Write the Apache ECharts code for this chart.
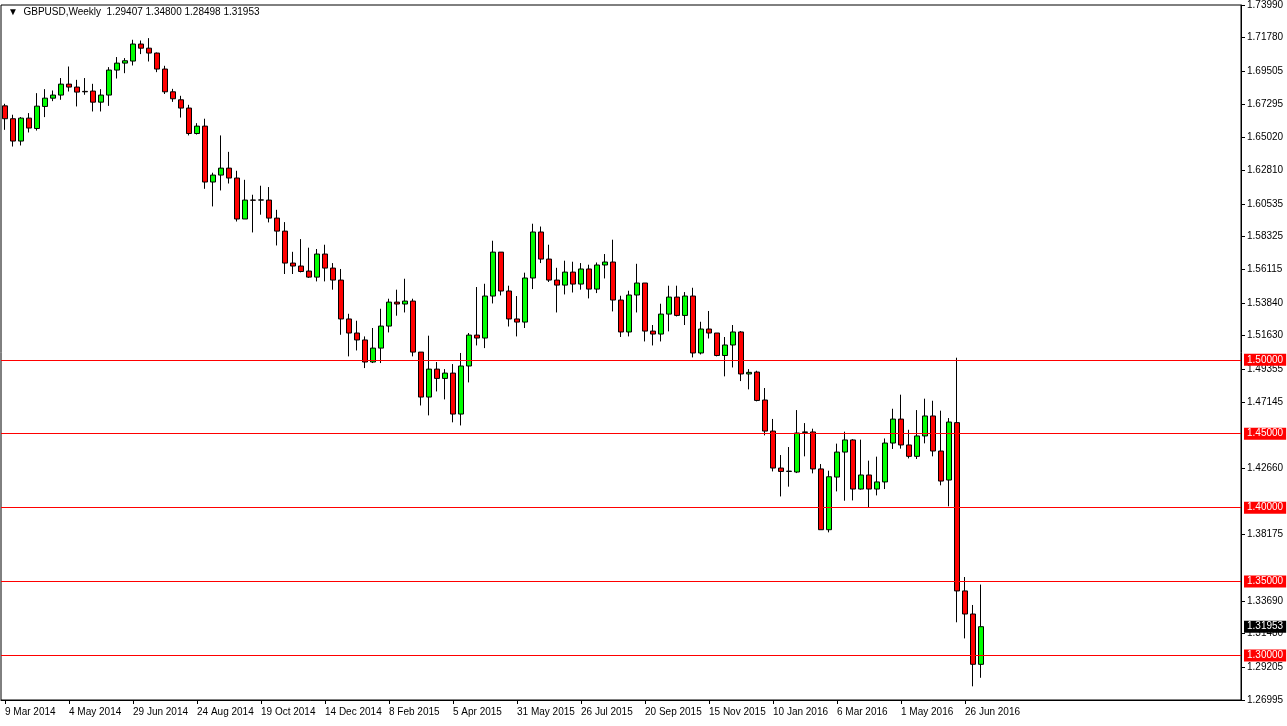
<!DOCTYPE html>
<html><head><meta charset="utf-8">
<script src="https://cdn.jsdelivr.net/npm/echarts@6/dist/echarts.min.js"></script>
<style>html,body{margin:0;padding:0;background:#fff}#c{width:1287px;height:726px}</style>
</head><body><div id="c"></div>
<script>
const open = [1.6717,1.6630,1.6479,1.6634,1.6564,1.6713,1.6769,1.6790,1.6864,1.6844,
1.6815,1.6817,1.6742,1.6790,1.6959,1.7006,1.7020,1.7135,1.7107,1.7074,
1.6966,1.6812,1.6758,1.6702,1.6530,1.6580,1.6202,1.6249,1.6296,1.6229,
1.5952,1.6080,1.6080,1.6080,1.5958,1.5870,1.5654,1.5634,1.5600,1.5559,
1.5715,1.5620,1.5539,1.5276,1.5181,1.5134,1.4985,1.5079,1.5228,1.5390,
1.5377,1.5397,1.5052,1.4748,1.4937,1.4874,1.4910,1.4633,1.4958,1.5167,
1.5147,1.5431,1.5728,1.5465,1.5276,1.5255,1.5553,1.5864,1.5681,1.5539,
1.5505,1.5593,1.5512,1.5614,1.5478,1.5641,1.5661,1.5404,1.5188,1.5438,
1.5519,1.5194,1.5174,1.5309,1.5424,1.5300,1.5431,1.5046,1.5208,1.5181,
1.5029,1.5100,1.5188,1.4904,1.4917,1.4728,1.4518,1.4268,1.4245,1.4241,
1.4509,1.4512,1.4262,1.3851,1.4207,1.4376,1.4458,1.4126,1.4221,1.4126,
1.4174,1.4437,1.4599,1.4424,1.4347,1.4485,1.4620,1.4383,1.4187,1.4575,
1.3437,1.3281,1.29407];
const close = [1.6630,1.6479,1.6634,1.6567,1.6715,1.6769,1.6790,1.6864,1.6844,1.6810,
1.6812,1.6742,1.6790,1.6959,1.7006,1.7022,1.7135,1.7107,1.7074,1.6966,
1.6812,1.6765,1.6702,1.6530,1.6580,1.6202,1.6249,1.6296,1.6229,1.5952,
1.6080,1.6079,1.6081,1.5958,1.5870,1.5654,1.5634,1.5597,1.5559,1.5715,
1.5620,1.5539,1.5276,1.5181,1.5134,1.4985,1.5079,1.5228,1.5390,1.5377,
1.5397,1.5052,1.4748,1.4937,1.4874,1.4910,1.4633,1.4958,1.5167,1.5147,
1.5431,1.5728,1.5465,1.5276,1.5255,1.5553,1.5864,1.5681,1.5539,1.5505,
1.5593,1.5512,1.5614,1.5478,1.5641,1.5661,1.5404,1.5188,1.5438,1.5519,
1.5194,1.5174,1.5309,1.5424,1.5300,1.5431,1.5046,1.5208,1.5181,1.5029,
1.5100,1.5188,1.4904,1.4915,1.4725,1.4518,1.4268,1.4245,1.4247,1.4505,
1.4512,1.4262,1.3851,1.4209,1.4376,1.4458,1.4126,1.4221,1.4126,1.4174,
1.4437,1.4599,1.4424,1.4347,1.4485,1.4620,1.4383,1.4180,1.4579,1.3437,
1.3281,1.2941,1.31953];
const high = [1.6731,1.6657,1.6641,1.6668,1.6803,1.6830,1.6821,1.6905,1.6983,1.6893,
1.6905,1.6866,1.6830,1.6979,1.7047,1.7040,1.7164,1.7159,1.7175,1.7078,
1.6988,1.6832,1.6785,1.6724,1.6600,1.6630,1.6265,1.6517,1.6406,1.6278,
1.6217,1.6116,1.6177,1.6168,1.6014,1.5931,1.5730,1.5816,1.5758,1.5749,
1.5778,1.5654,1.5614,1.5311,1.5264,1.5158,1.5215,1.5345,1.5413,1.5474,
1.5548,1.5413,1.5052,1.5163,1.4985,1.4937,1.4971,1.5046,1.5181,1.5492,
1.5514,1.5805,1.5728,1.5501,1.5431,1.5589,1.5920,1.5901,1.5778,1.5622,
1.5670,1.5663,1.5654,1.5643,1.5658,1.5715,1.5812,1.5433,1.5467,1.5649,
1.5519,1.5235,1.5379,1.5501,1.5501,1.5458,1.5487,1.5257,1.5330,1.5181,
1.5154,1.5235,1.5194,1.4937,1.4926,1.4809,1.4600,1.4356,1.4410,1.4660,
1.4572,1.4534,1.4295,1.4250,1.4433,1.4514,1.4464,1.4460,1.4318,1.4345,
1.4468,1.4669,1.4764,1.4527,1.4660,1.4737,1.4723,1.4656,1.4606,1.5014,
1.3531,1.3342,1.348];
const low = [1.6555,1.6442,1.6449,1.6537,1.6550,1.6641,1.6749,1.6758,1.6814,1.6713,
1.6792,1.6679,1.6679,1.6717,1.6902,1.6938,1.6990,1.7067,1.7017,1.6945,
1.6797,1.6744,1.6638,1.6517,1.6523,1.6156,1.6037,1.6145,1.6192,1.5935,
1.5952,1.5861,1.5981,1.5929,1.5773,1.5580,1.5580,1.5591,1.5553,1.5530,
1.5530,1.5474,1.5169,1.5023,1.5063,1.4944,1.4978,1.4978,1.5185,1.5298,
1.5320,1.5023,1.4691,1.4624,1.4786,1.4732,1.4577,1.4556,1.4847,1.5097,
1.5079,1.5381,1.5435,1.5225,1.5158,1.5215,1.5478,1.5654,1.5526,1.5320,
1.5442,1.5455,1.5474,1.5415,1.5451,1.5550,1.5327,1.5154,1.5158,1.5320,
1.5124,1.5097,1.5124,1.5192,1.5293,1.5235,1.5016,1.5036,1.5144,1.5023,
1.4888,1.4948,1.4856,1.4800,1.4719,1.4489,1.4245,1.4076,1.4142,1.4234,
1.4347,1.4232,1.3851,1.3833,1.4110,1.4047,1.4049,1.4122,1.4002,1.4083,
1.4126,1.4397,1.4399,1.4333,1.4329,1.4435,1.4347,1.4151,1.4009,1.3225,
1.3116,1.2792,1.28498];
const yTicks = [1.73990,1.71780,1.69505,1.67295,1.65020,1.62810,1.60535,1.58325,1.56115,1.53840,1.51630,1.49355,1.47145,1.42660,1.38175,1.33690,1.31480,1.29205,1.26995];
const levels = [1.50,1.45,1.40,1.35,1.30];
const lastPrice = 1.31953;
const title = 'GBPUSD,Weekly  1.29407 1.34800 1.28498 1.31953';

const months=['Jan','Feb','Mar','Apr','May','Jun','Jul','Aug','Sep','Oct','Nov','Dec'];
const categories=[];
for(let i=0;i<155;i++){const d=new Date(Date.UTC(2014,2,9)+i*7*86400000);categories.push(d.getUTCDate()+' '+months[d.getUTCMonth()]+' '+d.getUTCFullYear());}
const candles=open.map((o,i)=>[o,close[i],low[i],high[i]]);
const font='Liberation Sans';
const chart=echarts.init(document.getElementById('c'),null,{renderer:'canvas'});
chart.setOption({
  animation:false,
  backgroundColor:'#fff',
  textStyle:{fontFamily:font},
  graphic:[{type:'text',left:8,top:7,style:{text:'▼  '+title,font:'10px '+font,fill:'#000'}}],
  grid:{left:1,right:46,top:5,bottom:26,show:true,borderColor:'#000',borderWidth:1,outerBoundsMode:'none',containLabel:false},
  xAxis:{type:'category',data:categories,boundaryGap:true,
    axisLine:{lineStyle:{color:'#000'}},
    axisTick:{show:true,alignWithLabel:true,length:4,interval:(i)=>i%8===0&&i<=120,lineStyle:{color:'#000'}},
    axisLabel:{interval:(i)=>i%8===0&&i<=120,color:'#000',fontSize:10,fontFamily:font,align:'left',margin:7},
    splitLine:{show:false}},
  yAxis:[{type:'value',position:'right',min:1.26995,max:1.7399,
    axisLine:{show:true,lineStyle:{color:'#000'}},
    axisTick:{show:true,length:4,customValues:yTicks,lineStyle:{color:'#000'}},
    axisLabel:{customValues:yTicks,color:'#000',fontSize:10,fontFamily:font,margin:6,formatter:v=>v.toFixed(5)},
    splitLine:{show:false}},
   {type:'value',position:'right',min:1.26995,max:1.7399,
    axisLine:{show:false},axisTick:{show:false},splitLine:{show:false},
    axisLabel:{customValues:levels.concat([lastPrice]),margin:3,fontSize:10,fontFamily:font,
      formatter:v=>Math.abs(v-lastPrice)<1e-6?'{k|'+v.toFixed(5)+'}':'{r|'+v.toFixed(5)+'}',
      rich:{r:{backgroundColor:'#ff0000',color:'#fff',padding:[1,3,1,3],fontSize:10,fontFamily:font},
            k:{backgroundColor:'#000',color:'#fff',padding:[1,3,1,3],fontSize:10,fontFamily:font}}}}],
  series:[{type:'candlestick',data:candles,barWidth:5,
    itemStyle:{color:'#00ff00',color0:'#ff0000',borderColor:'#000',borderColor0:'#000',borderWidth:1},
    markLine:{symbol:'none',silent:true,label:{show:false},
      lineStyle:{color:'#ff0000',type:'solid',width:1},
      data:levels.map(v=>({yAxis:v}))}}]
});
</script></body></html>
